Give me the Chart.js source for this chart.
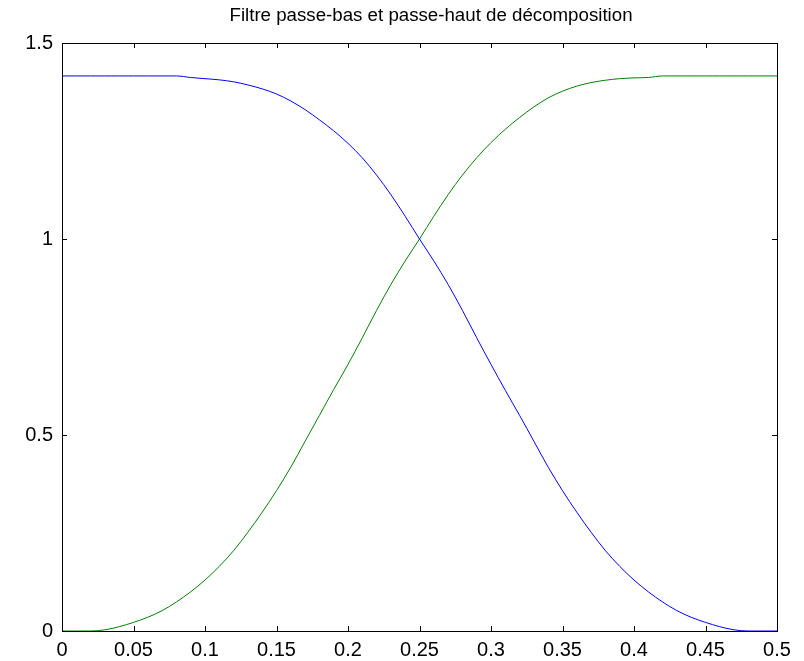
<!DOCTYPE html>
<html>
<head>
<meta charset="utf-8">
<title>Filtres de décomposition</title>
<script src="https://cdn.jsdelivr.net/npm/chart.js@4"></script>
<style>
  html, body { margin: 0; padding: 0; background: #fff; }
  canvas { display: block; }
</style>
</head>
<body>
<canvas id="filtreChart" width="804" height="661"></canvas>
<script>
// fréquences normalisées (0 -> 0.5)
var freq = [0, 0.01, 0.02, 0.03, 0.04, 0.05, 0.06, 0.07, 0.08, 0.09,
            0.10, 0.11, 0.12, 0.13, 0.14, 0.15, 0.16, 0.17, 0.18, 0.19,
            0.20, 0.21, 0.22, 0.23, 0.24, 0.25, 0.26, 0.27, 0.28, 0.29,
            0.30, 0.31, 0.32, 0.33, 0.34, 0.35, 0.36, 0.37, 0.38, 0.39,
            0.40, 0.41, 0.42, 0.43, 0.44, 0.45, 0.46, 0.47, 0.48, 0.49, 0.50];

// |H0| : passe-bas
var passeBas = [1.416, 1.416, 1.416, 1.416, 1.416, 1.416, 1.416, 1.416, 1.416, 1.412,
                1.409, 1.406, 1.401, 1.393, 1.383, 1.370, 1.352, 1.330, 1.304, 1.276,
                1.244, 1.207, 1.163, 1.113, 1.058, 1.000, 0.944, 0.884, 0.818, 0.748,
                0.680, 0.614, 0.550, 0.484, 0.418, 0.358, 0.303, 0.252, 0.205, 0.165,
                0.130, 0.100, 0.074, 0.052, 0.035, 0.022, 0.011, 0.003, 0.000, 0.000, 0.000];

// |H1| : passe-haut
var passeHaut = [0.000, 0.000, 0.000, 0.003, 0.011, 0.022, 0.035, 0.052, 0.074, 0.100,
                 0.130, 0.165, 0.205, 0.252, 0.303, 0.358, 0.418, 0.484, 0.550, 0.616,
                 0.680, 0.748, 0.818, 0.884, 0.944, 1.000, 1.058, 1.113, 1.163, 1.207,
                 1.246, 1.280, 1.310, 1.337, 1.360, 1.377, 1.390, 1.399, 1.405, 1.409,
                 1.411, 1.412, 1.416, 1.416, 1.416, 1.416, 1.416, 1.416, 1.416, 1.416, 1.416];

var xTicks = [0, 0.05, 0.1, 0.15, 0.2, 0.25, 0.3, 0.35, 0.4, 0.45, 0.5];
var xTickLabels = ['0', '0.05', '0.1', '0.15', '0.2', '0.25', '0.3', '0.35', '0.4', '0.45', '0.5'];
var yTicks = [0, 0.5, 1, 1.5];
var yTickLabels = ['0', '0.5', '1', '1.5'];

var titre = 'Filtre passe-bas et passe-haut de décomposition';
var police = '"Liberation Sans", Arial, sans-serif';

function toPoints(xs, ys) {
    var pts = [];
    for (var i = 0; i < xs.length; i++) {
        pts.push({ x: xs[i], y: ys[i] });
    }
    return pts;
}

// cadre façon matlab : boîte + petites graduations vers l'intérieur + titre
var cadrePlugin = {
    id: 'cadre',
    afterDraw: function(chart) {
        var ctx = chart.ctx;
        var a = chart.chartArea;
        var sx = chart.scales.x;
        var sy = chart.scales.y;
        var L = 5;
        ctx.save();
        ctx.strokeStyle = '#000';
        ctx.lineWidth = 1;
        ctx.strokeRect(Math.round(a.left) + 0.5, Math.round(a.top) + 0.5,
                       Math.round(a.right - a.left), Math.round(a.bottom - a.top));
        ctx.beginPath();
        for (var i = 0; i < xTicks.length; i++) {
            var px = Math.round(sx.getPixelForValue(xTicks[i])) + 0.5;
            ctx.moveTo(px, a.bottom); ctx.lineTo(px, a.bottom - L);
            ctx.moveTo(px, a.top); ctx.lineTo(px, a.top + L);
        }
        for (var j = 0; j < yTicks.length; j++) {
            var py = Math.round(sy.getPixelForValue(yTicks[j])) + 0.5;
            ctx.moveTo(a.left, py); ctx.lineTo(a.left + L, py);
            ctx.moveTo(a.right, py); ctx.lineTo(a.right - L, py);
        }
        ctx.stroke();

        ctx.fillStyle = '#000';
        ctx.font = '18.7px ' + police;
        ctx.textAlign = 'center';
        ctx.textBaseline = 'middle';
        ctx.fillText(titre, 431, 16);
        ctx.restore();
    }
};

var ctx = document.getElementById('filtreChart').getContext('2d');
new Chart(ctx, {
    type: 'line',
    data: {
        datasets: [
            { label: 'passe-bas', data: toPoints(freq, passeBas), borderColor: '#0000ff',
              borderWidth: 1, pointRadius: 0, cubicInterpolationMode: 'monotone' },
            { label: 'passe-haut', data: toPoints(freq, passeHaut), borderColor: '#008000',
              borderWidth: 1, pointRadius: 0, cubicInterpolationMode: 'monotone' }
        ]
    },
    options: {
        responsive: false,
        animation: false,
        layout: { padding: { top: 43, right: 27, left: 0, bottom: 0 } },
        plugins: { legend: { display: false }, tooltip: { enabled: false }, title: { display: false } },
        scales: {
            x: {
                type: 'linear', min: 0, max: 0.5,
                grid: { display: false, drawTicks: false },
                border: { display: false },
                afterBuildTicks: function(scale) {
                    scale.ticks = xTicks.map(function(v) { return { value: v }; });
                },
                afterFit: function(scale) { scale.height = 30; },
                ticks: {
                    padding: 7, color: '#000', maxRotation: 0, autoSkip: false,
                    font: { family: police, size: 20 },
                    callback: function(v, i) { return xTickLabels[i]; }
                }
            },
            y: {
                type: 'linear', min: 0, max: 1.5,
                grid: { display: false, drawTicks: false },
                border: { display: false },
                afterBuildTicks: function(scale) {
                    scale.ticks = yTicks.map(function(v) { return { value: v }; });
                },
                afterFit: function(scale) { scale.width = 62; },
                ticks: {
                    padding: 9, color: '#000', autoSkip: false,
                    font: { family: police, size: 20 },
                    callback: function(v, i) { return yTickLabels[i]; }
                }
            }
        }
    },
    plugins: [cadrePlugin]
});
</script>
</body>
</html>
